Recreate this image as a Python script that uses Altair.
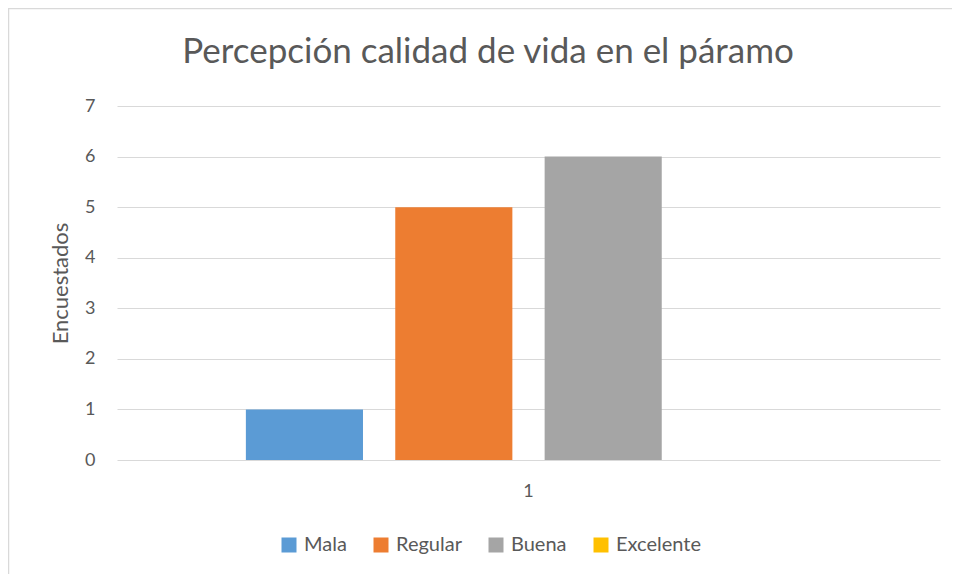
import altair as alt
import pandas as pd

categories = ["1"]
series = ["Mala", "Regular", "Buena", "Excelente"]
values = [1, 5, 6, 0]
colors = ["#5B9BD5", "#ED7D31", "#A5A5A5", "#FFC000"]
y_ticks = [0, 1, 2, 3, 4, 5, 6, 7]
title_text = "Percepción calidad de vida en el páramo"

df = pd.DataFrame({
    "cat": categories * len(series),
    "serie": series,
    "valor": values,
})

FONT = "Lato"
GREY = "#595959"
GRID = "#D9D9D9"

bars = alt.Chart(df).mark_bar().encode(
    x=alt.X("cat:N",
            scale=alt.Scale(paddingInner=0, paddingOuter=0.228),
            axis=alt.Axis(title=None, labelAngle=0, ticks=False, domain=False,
                          labelFontSize=18, labelColor=GREY, labelFont=FONT,
                          labelPadding=22)),
    xOffset=alt.XOffset("serie:N", sort=series,
                        scale=alt.Scale(paddingInner=0.216, paddingOuter=0)),
    y=alt.Y("valor:Q",
            scale=alt.Scale(domain=[0, 7], nice=False),
            axis=alt.Axis(title="Encuestados", values=y_ticks, ticks=False,
                          domain=False, grid=True, gridColor=GRID,
                          labelFontSize=18, labelColor=GREY, labelFont=FONT,
                          labelPadding=22,
                          titleFontSize=22, titleColor=GREY, titleFont=FONT,
                          titleFontWeight="normal", titleX=-57, titleY=177,
                          titleAngle=-90, titleAlign="center",
                          titleBaseline="middle")),
    color=alt.Color("serie:N", sort=series,
                    scale=alt.Scale(domain=series, range=colors),
                    legend=alt.Legend(title=None, orient="none", direction="horizontal",
                                      legendX=162, legendY=429,
                                      symbolType="square", symbolSize=225,
                                      symbolStrokeWidth=0, labelFontSize=20,
                                      labelColor=GREY, labelFont=FONT,
                                      labelOffset=5, columnPadding=24)),
)

frame = pd.DataFrame({"k": [0]})
left_border = alt.Chart(frame).mark_rule(color=GRID, strokeWidth=1.5).encode(
    x=alt.value(-108.5), y=alt.value(-98), y2=alt.value(470))
top_border = alt.Chart(frame).mark_rule(color=GRID, strokeWidth=1.5).encode(
    x=alt.value(-109), x2=alt.value(840), y=alt.value(-97.5))
title_mark = alt.Chart(frame).mark_text(
    font=FONT, fontSize=35, color=GREY, align="center", baseline="alphabetic"
).encode(x=alt.value(371), y=alt.value(-43), text=alt.value(title_text))

chart = alt.layer(bars, left_border, top_border, title_mark).properties(
    width=823, height=354,
    autosize=alt.AutoSizeParams(type="none"),
    padding={"left": 109, "top": 98, "right": 12, "bottom": 114},
    background="white",
).configure_view(stroke=None)

chart.save("out.html", embed_options={"renderer": "svg", "actions": False})
